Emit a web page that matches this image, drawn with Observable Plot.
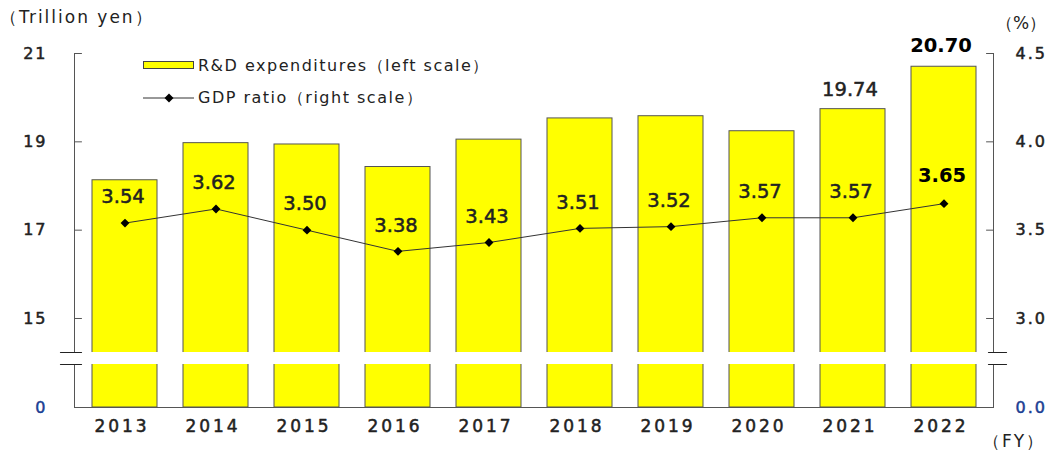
<!DOCTYPE html>
<html><head><meta charset="utf-8">
<script src="https://cdn.jsdelivr.net/npm/d3@7"></script>
<script src="https://cdn.jsdelivr.net/npm/@observablehq/plot@0.6"></script>
<style>
body{margin:0;background:#fff;font-family:"DejaVu Sans",sans-serif;}
#wrap{position:relative;width:1053px;height:450px;overflow:hidden;}
.lab{position:absolute;font-size:17px;color:#222;letter-spacing:2px;white-space:nowrap;line-height:1;}
.leg{position:absolute;font-size:16px;color:#222;letter-spacing:1.5px;white-space:nowrap;line-height:1;}
svg g[aria-label="x-axis tick label"] text{letter-spacing:3px;}
svg g[aria-label="y-axis tick label"] text{letter-spacing:2px;}
svg g[aria-label="ratio-label"] text{letter-spacing:1.5px;}
svg g[aria-label="rd-label"] text{letter-spacing:2px;}
</style></head><body>
<div id="wrap"></div>
<script>
// ---- data ----
const years = ["2013","2014","2015","2016","2017","2018","2019","2020","2021","2022"];
const rdExpenditures = [18.13, 18.97, 18.94, 18.43, 19.05, 19.53, 19.58, 19.24, 19.74, 20.70];
const gdpRatio = [3.54, 3.62, 3.50, 3.38, 3.43, 3.51, 3.52, 3.57, 3.57, 3.65];
const rdValueLabels = [null, null, null, null, null, null, null, null, "19.74", "20.70"];
const boldYear = "2022";
const leftTicks = [0, 15, 17, 19, 21];
const leftTickLabels = ["0", "15", "17", "19", "21"];
const rightTicks = [0, 3.0, 3.5, 4.0, 4.5];
const rightTickLabels = ["0.0", "3.0", "3.5", "4.0", "4.5"];
const breakLow = 13.96, breakHigh = 14.23;

// right scale (%) -> left scale (trillion yen): 3.0 % ↔ 15, 0.5 % ↔ 2
const toLeft = r => r === 0 ? 0 : 15 + (r - 3) * 4;

const data = years.map((year, i) => ({
  year, rd: rdExpenditures[i], ratio: gdpRatio[i], rdLabel: rdValueLabels[i]
}));

const tickShape = {draw(ctx, l) { ctx.moveTo(0, 0); ctx.lineTo(0, -l); }};
const axisColor = "#555";
const textColor = "#222";
const blue = "#1c3f94";
const rightPos = rightTicks.map(toLeft);

const chart = Plot.plot({
  width: 1053,
  height: 450,
  marginLeft: 74,
  marginRight: 60,
  marginTop: 53,
  marginBottom: 43,
  style: {fontFamily: "DejaVu Sans, sans-serif", background: "white", overflow: "visible"},
  x: {type: "band", domain: years, paddingInner: 0.29, paddingOuter: 0.145},
  y: {type: "linear", domain: [0, breakLow, breakHigh, 21], range: [407, 364, 352, 53]},
  marks: [
    Plot.barY(data, {x: "year", y: "rd", fill: "#ffff00", stroke: axisColor, strokeWidth: 1}),
    Plot.frame({anchor: "left", stroke: axisColor}),
    Plot.frame({anchor: "right", stroke: axisColor}),
    Plot.frame({anchor: "bottom", stroke: axisColor}),
    Plot.axisX({tickSize: 0, tickPadding: 12, fontSize: 17, fill: textColor, label: null,
      textStroke: textColor, textStrokeWidth: 0.5, dx: -3}),
    Plot.axisY({anchor: "left", ticks: leftTicks, tickSize: 0, tickPadding: 27, label: null,
      fontSize: 16, fill: d => d === 0 ? blue : textColor, textStroke: d => d === 0 ? blue : textColor, textStrokeWidth: 0.5,
      tickFormat: d => leftTickLabels[leftTicks.indexOf(d)]}),
    Plot.axisY({anchor: "right", ticks: rightPos, tickSize: 0, tickPadding: 22, label: null,
      fontSize: 16, fill: d => d === 0 ? blue : textColor, textStroke: d => d === 0 ? blue : textColor, textStrokeWidth: 0.5,
      tickFormat: d => rightTickLabels[rightPos.indexOf(d)]}),
    // inner ticks
    Plot.vector(leftTicks.slice(1), {y: d => d, frameAnchor: "left", length: 7, rotate: 90, anchor: "start",
      shape: tickShape, stroke: axisColor, strokeWidth: 1}),
    Plot.vector(rightPos.slice(1), {y: d => d, frameAnchor: "right", length: 7, rotate: -90, anchor: "start",
      shape: tickShape, stroke: axisColor, strokeWidth: 1}),
    // axis break band
    Plot.rect([0], {y1: breakLow, y2: breakHigh, fill: "white", insetLeft: -20, insetRight: -20}),
    Plot.vector([breakLow, breakHigh], {y: d => d, frameAnchor: "left", length: 21, rotate: 90, anchor: "middle", dx: -3.5,
      shape: tickShape, stroke: "#222", strokeWidth: 1.2}),
    Plot.vector([breakLow, breakHigh], {y: d => d, frameAnchor: "right", length: 18, rotate: 90, anchor: "middle", dx: 4,
      shape: tickShape, stroke: "#222", strokeWidth: 1.2}),
    // GDP ratio line
    Plot.line(data, {x: "year", y: d => toLeft(d.ratio), stroke: "#333", strokeWidth: 1}),
    Plot.dot(data, {x: "year", y: d => toLeft(d.ratio), symbol: "diamond2", r: 4, fill: "#000", stroke: "none"}),
    Plot.text(data.filter(d => d.year !== boldYear), {x: "year", y: d => toLeft(d.ratio), text: d => d.ratio.toFixed(2),
      dy: -26, dx: -2, fontSize: 19.5, fill: textColor, stroke: textColor, strokeWidth: 0.5, ariaLabel: "ratio-label"}),
    Plot.text(data.filter(d => d.year === boldYear), {x: "year", y: d => toLeft(d.ratio), text: d => d.ratio.toFixed(2),
      dy: -28, dx: -2, fontSize: 19.5, fontWeight: "bold", fill: "#000", ariaLabel: "ratio-label"}),
    // R&D value labels
    Plot.text(data.filter(d => d.rdLabel && d.year !== boldYear), {x: "year", y: "rd", text: "rdLabel",
      dy: -19, dx: -3, fontSize: 19.5, fill: textColor, stroke: textColor, strokeWidth: 0.5, ariaLabel: "rd-label"}),
    Plot.text(data.filter(d => d.rdLabel && d.year === boldYear), {x: "year", y: "rd", text: "rdLabel",
      dy: -21, dx: -3, fontSize: 19.5, fontWeight: "bold", fill: "#000", ariaLabel: "rd-label"})
  ]
});

const wrap = document.getElementById("wrap");
wrap.appendChild(chart);

function addLabel(cls, text, left, top, extra) {
  const d = document.createElement("div");
  d.className = cls;
  d.textContent = text;
  d.style.left = left + "px";
  d.style.top = top + "px";
  if (extra) Object.assign(d.style, extra);
  wrap.appendChild(d);
  return d;
}
addLabel("lab", "（Trillion yen）", 0, 9);
addLabel("lab", "（%）", 996, 15, {letterSpacing: "0px"});
addLabel("lab", "（FY）", 983, 433);

// legend
const sw = document.createElement("div");
Object.assign(sw.style, {position: "absolute", left: "143px", top: "61px", width: "49px", height: "6px",
  background: "#ffff00", border: "1px solid #444"});
wrap.appendChild(sw);
addLabel("leg", "R&D expenditures（left scale）", 198, 58);
const ns = "http://www.w3.org/2000/svg";
const lsvg = document.createElementNS(ns, "svg");
lsvg.setAttribute("width", 54); lsvg.setAttribute("height", 14);
Object.assign(lsvg.style, {position: "absolute", left: "142px", top: "91px"});
lsvg.innerHTML = '<line x1="1" x2="52" y1="7" y2="7" stroke="#333" stroke-width="1"/>' +
  '<path d="M27,2.5 L31.5,7 L27,11.5 L22.5,7 Z" fill="#000"/>';
wrap.appendChild(lsvg);
addLabel("leg", "GDP ratio（right scale）", 198, 90);
</script>
</body></html>
